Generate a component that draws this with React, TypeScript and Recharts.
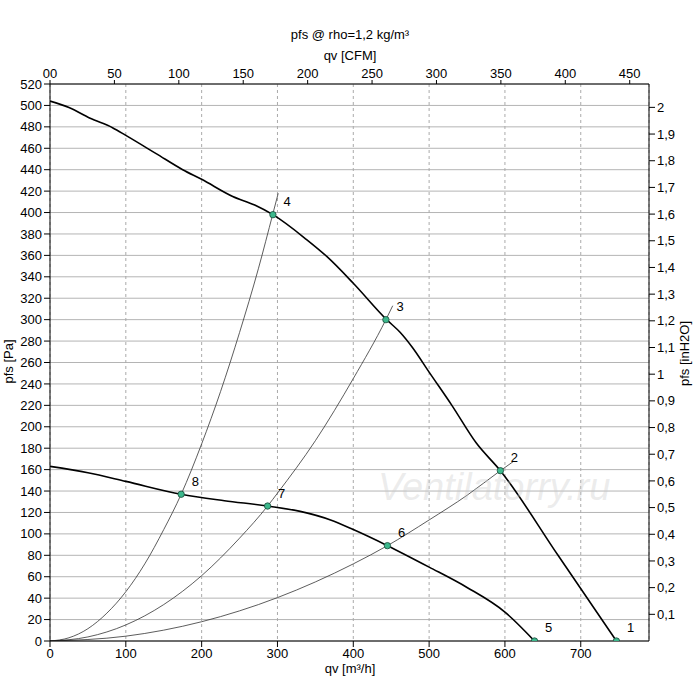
import React from "react"
import {
  ComposedChart, Line, Scatter, XAxis, YAxis, CartesianGrid, LabelList,
} from "recharts"

// fan curves, qv [m³/h] vs pfs [Pa]
const FAN_HIGH = [
  { qv: 0, pa: 504 }, { qv: 25, pa: 498 }, { qv: 53, pa: 488 }, { qv: 83, pa: 479 },
  { qv: 100, pa: 472 }, { qv: 140, pa: 455 }, { qv: 175, pa: 440 }, { qv: 200, pa: 431 },
  { qv: 241, pa: 415 }, { qv: 270, pa: 407 }, { qv: 294, pa: 398 }, { qv: 338, pa: 375 },
  { qv: 365, pa: 359 }, { qv: 400, pa: 334 }, { qv: 444, pa: 300 }, { qv: 462, pa: 288 },
  { qv: 478, pa: 274 }, { qv: 500, pa: 251 }, { qv: 530, pa: 220 }, { qv: 562, pa: 185 },
  { qv: 594, pa: 159 }, { qv: 670, pa: 80 }, { qv: 747, pa: 0 },
]
const FAN_LOW = [
  { qv: 0, pa: 163 }, { qv: 50, pa: 157 }, { qv: 100, pa: 149 }, { qv: 173, pa: 137 },
  { qv: 230, pa: 131 }, { qv: 287, pa: 126 }, { qv: 330, pa: 121 }, { qv: 370, pa: 113 },
  { qv: 400, pa: 104 }, { qv: 445, pa: 89 }, { qv: 500, pa: 69 }, { qv: 550, pa: 50 },
  { qv: 600, pa: 27 }, { qv: 639, pa: 0 },
]
// system curves
const SYS_A = [
  { qv: 0, pa: 0 }, { qv: 25, pa: 3 }, { qv: 50, pa: 11.5 }, { qv: 75, pa: 26 },
  { qv: 100, pa: 46 }, { qv: 125, pa: 72 }, { qv: 150, pa: 104 }, { qv: 173, pa: 137 },
  { qv: 200, pa: 184 }, { qv: 225, pa: 233 }, { qv: 250, pa: 288 }, { qv: 275, pa: 348 },
  { qv: 294, pa: 399 }, { qv: 301, pa: 418 },
]
const SYS_B = [
  { qv: 0, pa: 0 }, { qv: 50, pa: 3.8 }, { qv: 100, pa: 15 }, { qv: 150, pa: 34 },
  { qv: 200, pa: 61 }, { qv: 250, pa: 96 }, { qv: 287, pa: 126 }, { qv: 300, pa: 138 },
  { qv: 350, pa: 187 }, { qv: 400, pa: 245 }, { qv: 443, pa: 300 }, { qv: 452, pa: 313 },
]
const SYS_C = [
  { qv: 0, pa: 0 }, { qv: 100, pa: 4.5 }, { qv: 200, pa: 18 }, { qv: 300, pa: 40.5 },
  { qv: 400, pa: 72 }, { qv: 445, pa: 89 }, { qv: 500, pa: 113 }, { qv: 550, pa: 136 },
  { qv: 594, pa: 159 }, { qv: 612, pa: 168 },
]
const POINTS = [
  { qv: 747, pa: 0, id: "1" }, { qv: 594, pa: 159, id: "2" }, { qv: 443, pa: 300, id: "3" },
  { qv: 294, pa: 398, id: "4" }, { qv: 639, pa: 0, id: "5" }, { qv: 445, pa: 89, id: "6" },
  { qv: 287, pa: 126, id: "7" }, { qv: 173, pa: 137, id: "8" },
]
// invisible anchor so the CFM / inH2O axes get drawn
const ANCHOR = [{ cfm: 0, inh: 0 }, { cfm: 465, inh: 2.08 }]

const QV_TICKS = [0, 100, 200, 300, 400, 500, 600, 700]
const PA_TICKS = Array.from({ length: 27 }, (_, i) => i * 20)
const CFM_TICKS = [0, 50, 100, 150, 200, 250, 300, 350, 400, 450]
const INH2O_TICKS = [0.1, 0.2, 0.3, 0.4, 0.5, 0.6, 0.7, 0.8, 0.9, 1, 1.1, 1.2, 1.3, 1.4, 1.5, 1.6, 1.7, 1.8, 1.9, 2]

const QV_MAX = 790
const PA_MAX = 520
const FONT = "'Liberation Sans', Arial, sans-serif"
const tick = { fontSize: 13, fill: "#000", fontFamily: FONT }

const txt = (s: React.CSSProperties): React.CSSProperties => ({
  position: "absolute", fontFamily: FONT, fontSize: 13, color: "#000", whiteSpace: "nowrap", ...s,
})

export default function App() {
  return (
    <div style={{ position: "absolute", left: 0, top: 0, width: 700, height: 700, background: "#fff" }}>
      <ComposedChart width={700} height={700} margin={{ top: 60, right: 11, left: 10, bottom: 29 }}>
        <XAxis xAxisId="qv" dataKey="qv" type="number" domain={[0, QV_MAX]} ticks={QV_TICKS}
          tick={tick} stroke="#000" tickLine={{ stroke: "#000" }} height={30} allowDataOverflow />
        <XAxis xAxisId="cfm" dataKey="cfm" orientation="top" type="number" domain={[0, QV_MAX / 1.699]} ticks={CFM_TICKS}
          tick={tick} stroke="#000" height={24} tickSize={4} allowDataOverflow
          tickFormatter={(v) => (v === 0 ? "00" : String(v))} />
        <YAxis yAxisId="pa" type="number" domain={[0, PA_MAX]} ticks={PA_TICKS} interval={0}
          tick={tick} stroke="#000" width={40} allowDataOverflow />
        <YAxis yAxisId="in" orientation="right" type="number" domain={[0, PA_MAX / 249.09]} ticks={INH2O_TICKS}
          interval={0} tick={tick} stroke="#000" width={40} allowDataOverflow
          tickFormatter={(v) => String(Math.round(v * 10) / 10).replace(".", ",")} />
        <CartesianGrid xAxisId="qv" yAxisId="pa" vertical={false} stroke="#b4b4b4" />
        <CartesianGrid xAxisId="qv" yAxisId="pa" horizontal={false} stroke="#aaa" strokeDasharray="3 3" />
        <Line xAxisId="cfm" yAxisId="in" data={ANCHOR} dataKey="inh" stroke="none" dot={false}
          activeDot={false} isAnimationActive={false} />
        {[SYS_A, SYS_B, SYS_C].map((d, i) => (
          <Line key={i} xAxisId="qv" yAxisId="pa" data={d} dataKey="pa" type="monotone"
            stroke="#333" strokeWidth={0.8} dot={false} isAnimationActive={false} />
        ))}
        <Line xAxisId="qv" yAxisId="pa" data={FAN_HIGH} dataKey="pa" type="monotone"
          stroke="#000" strokeWidth={1.6} dot={false} isAnimationActive={false} />
        <Line xAxisId="qv" yAxisId="pa" data={FAN_LOW} dataKey="pa" type="monotone"
          stroke="#000" strokeWidth={1.6} dot={false} isAnimationActive={false} />
        <Scatter xAxisId="qv" yAxisId="pa" data={POINTS} dataKey="pa" fill="#3cb88c" stroke="#1a4a3a"
          strokeWidth={0.8} isAnimationActive={false}
          shape={(p: any) => <circle cx={p.cx} cy={p.cy} r={3.2} fill="#3cb88c" stroke="#1a4a3a" strokeWidth={0.8} />}>
          <LabelList dataKey="id" content={(p: any) => (
            <text x={p.x + 15} y={p.y - 4} fontSize={13} fontFamily={FONT} fill="#000">{p.value}</text>
          )} />
        </Scatter>
      </ComposedChart>
      <div style={txt({ left: 0, width: 700, top: 27, textAlign: "center" })}>pfs @ rho=1,2 kg/m³</div>
      <div style={txt({ left: 0, width: 700, top: 48, textAlign: "center" })}>qv [CFM]</div>
      <div style={txt({ left: 0, width: 700, top: 661, textAlign: "center" })}>qv [m³/h]</div>
      <div style={txt({ left: -14, top: 354, transform: "rotate(-90deg)" })}>pfs [Pa]</div>
      <div style={txt({ left: 652, top: 346, transform: "rotate(-90deg)" })}>pfs [inH2O]</div>
      <div style={txt({ left: 378, top: 466, fontSize: 38, fontStyle: "italic", color: "rgba(200,200,200,0.35)" })}>Ventilatorry.ru</div>
    </div>
  )
}
